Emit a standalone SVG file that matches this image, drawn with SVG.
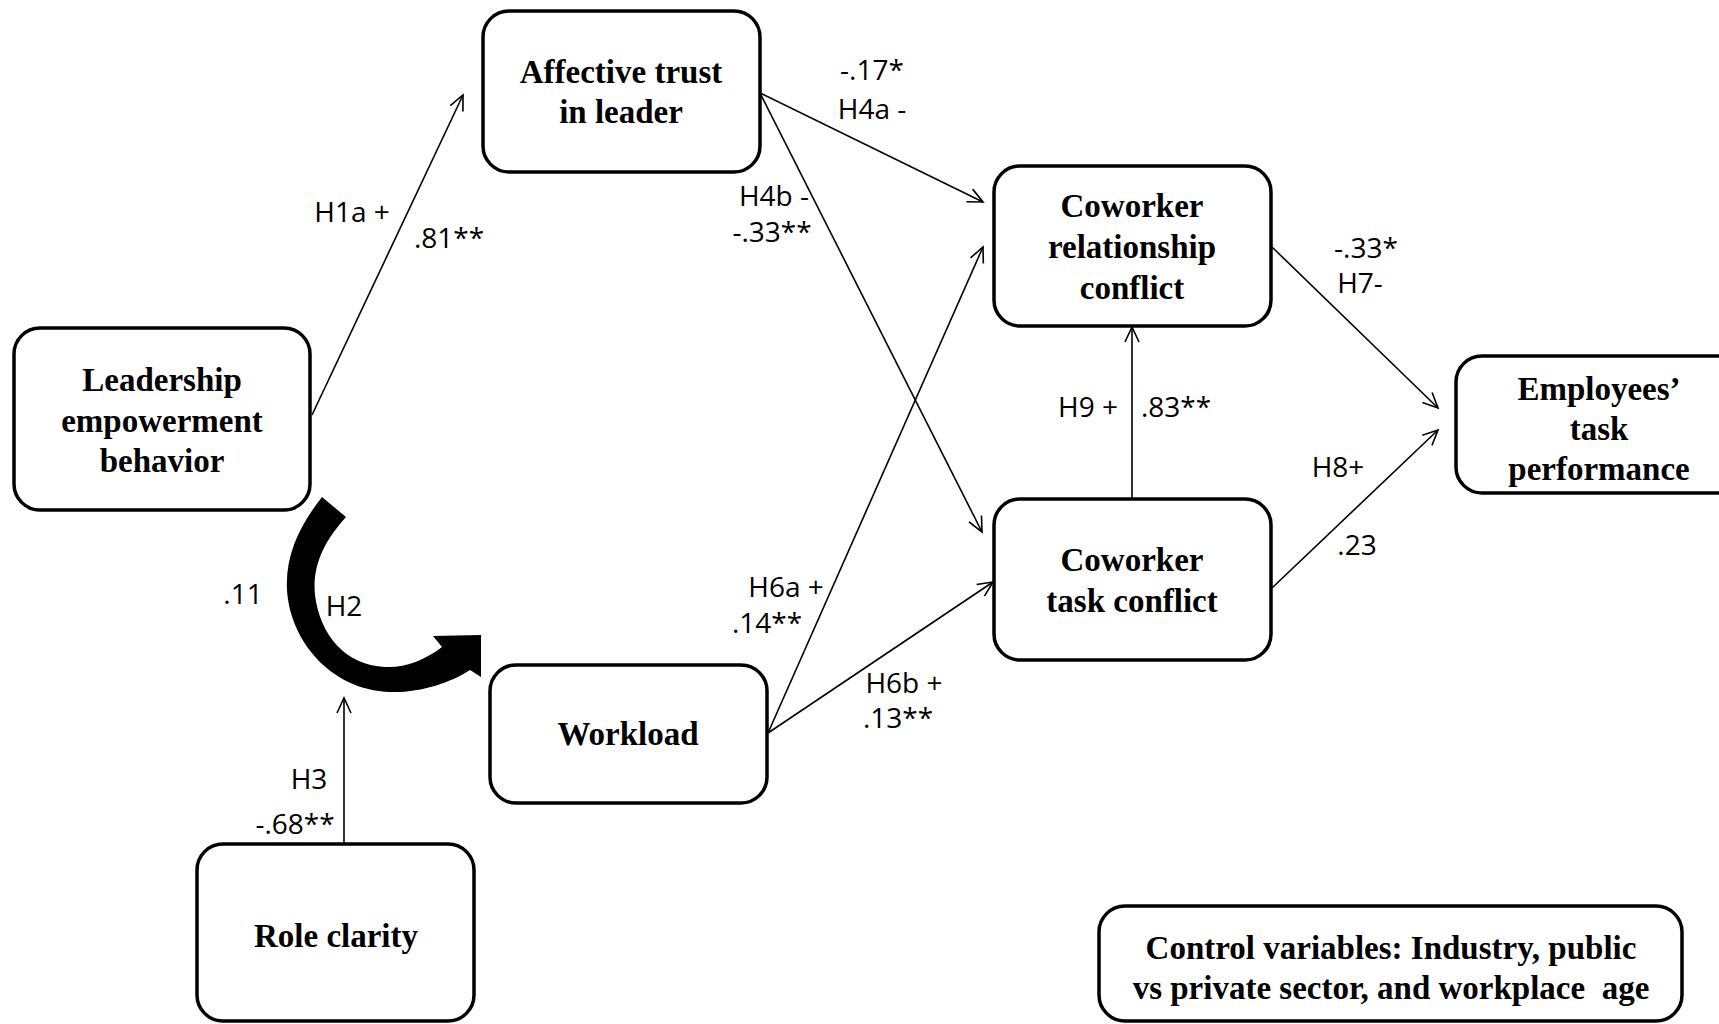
<svg xmlns="http://www.w3.org/2000/svg" width="1719" height="1024" viewBox="0 0 1719 1024">
<defs>
<style>
.box{fill:#fff;stroke:#000;stroke-width:3.5}
.nt{font-family:"Liberation Serif","Times New Roman",serif;font-weight:bold;font-size:33px;text-anchor:middle;fill:#000}
.lb{font-family:"Open Sans","Noto Sans",sans-serif;font-size:28px;text-anchor:middle;fill:#000}
.cn{stroke:#000;stroke-width:1.6;fill:none;marker-end:url(#arr)}
</style>
<marker id="arr" viewBox="-18 -10 20 20" refX="0" refY="0" markerWidth="20" markerHeight="20" orient="auto" markerUnits="userSpaceOnUse">
<path d="M-15,-7 L0,0 L-15,7" fill="none" stroke="#000" stroke-width="1.6"/>
</marker>
</defs>
<rect width="1719" height="1024" fill="#fff"/>

<g id="connectors">
<line class="cn" x1="312" y1="415" x2="463" y2="95"/>
<line class="cn" x1="760" y1="93" x2="983" y2="202"/>
<line class="cn" x1="760" y1="93" x2="982" y2="532"/>
<line class="cn" x1="768" y1="733" x2="983" y2="247"/>
<line class="cn" x1="768" y1="733" x2="993" y2="582"/>
<line class="cn" x1="1132" y1="499" x2="1132" y2="327"/>
<line class="cn" x1="1272" y1="247" x2="1438" y2="408"/>
<line class="cn" x1="1272" y1="588" x2="1438" y2="430"/>
<line class="cn" x1="344" y1="845" x2="344" y2="698"/>
<path id="h2-arrow" d="M322,497 C300,525 285,555 287,590 C290,640 330,690 390,692 C420,693 450,683 470,670 L481,677 L481,635 L433,636 L442,647 C425,660 405,668 385,667 C345,665 320,635 315,595 C312,565 325,540 346,517 Z" fill="#000"/>
</g>

<g id="labels">
<text class="lb" x="872" y="80">-.17*</text>
<text class="lb" x="872" y="119">H4a -</text>
<text class="lb" x="352" y="222">H1a +</text>
<text class="lb" x="449" y="248">.81**</text>
<text class="lb" x="774" y="206">H4b -</text>
<text class="lb" x="772" y="242">-.33**</text>
<text class="lb" x="1366" y="258">-.33*</text>
<text class="lb" x="1360" y="293">H7-</text>
<text class="lb" x="1088" y="417">H9 +</text>
<text class="lb" x="1176" y="417">.83**</text>
<text class="lb" x="1338" y="477">H8+</text>
<text class="lb" x="1357" y="555">.23</text>
<text class="lb" x="243" y="604">.11</text>
<text class="lb" x="344" y="616">H2</text>
<text class="lb" x="786" y="597">H6a +</text>
<text class="lb" x="767" y="633">.14**</text>
<text class="lb" x="904" y="693">H6b +</text>
<text class="lb" x="898" y="728">.13**</text>
<text class="lb" x="309" y="789">H3</text>
<text class="lb" x="295" y="834">-.68**</text>
</g>

<g id="affective-trust">
<rect class="box" x="483" y="11" width="277" height="161" rx="26"/>
<text class="nt" x="621" y="83">Affective trust</text>
<text class="nt" x="621" y="123">in leader</text>
</g>
<g id="leadership">
<rect class="box" x="14" y="328" width="296" height="182" rx="26"/>
<text class="nt" x="162" y="391">Leadership</text>
<text class="nt" x="162" y="432">empowerment</text>
<text class="nt" x="162" y="472">behavior</text>
</g>
<g id="relationship-conflict">
<rect class="box" x="994" y="166" width="277" height="160" rx="26"/>
<text class="nt" x="1132" y="217">Coworker</text>
<text class="nt" x="1132" y="258">relationship</text>
<text class="nt" x="1132" y="299">conflict</text>
</g>
<g id="employees-performance">
<rect class="box" x="1456" y="356" width="287" height="137" rx="26"/>
<text class="nt" x="1599" y="400">Employees’</text>
<text class="nt" x="1599" y="440">task</text>
<text class="nt" x="1599" y="480">performance</text>
</g>
<g id="task-conflict">
<rect class="box" x="994" y="499" width="277" height="161" rx="26"/>
<text class="nt" x="1132" y="571">Coworker</text>
<text class="nt" x="1132" y="612">task conflict</text>
</g>
<g id="workload">
<rect class="box" x="490" y="665" width="277" height="138" rx="26"/>
<text class="nt" x="628" y="745">Workload</text>
</g>
<g id="role-clarity">
<rect class="box" x="197" y="844" width="277" height="177" rx="26"/>
<text class="nt" x="336" y="947">Role clarity</text>
</g>
<g id="control-variables">
<rect class="box" x="1099" y="906" width="583" height="115" rx="26"/>
<text class="nt" x="1391" y="959">Control variables: Industry, public</text>
<text class="nt" x="1391" y="999" xml:space="preserve">vs private sector, and workplace  age</text>
</g>
</svg>
